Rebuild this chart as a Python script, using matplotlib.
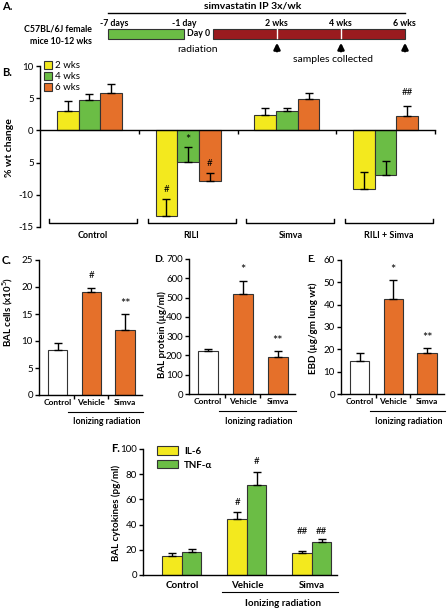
import numpy as np
import matplotlib
matplotlib.use('Agg')
import matplotlib.pyplot as plt
from matplotlib.patches import Rectangle

plt.rcParams['font.family'] = ['Lato', 'DejaVu Sans']

# ---- data ----
# panel B: % weight change per group, one list per time point
groups_b = ['Control', 'RILI', 'Simva', 'RILI + Simva']
weeks_b = ['2 wks', '4 wks', '6 wks']
wt_2wk = [3.0, -13.3, 2.45, -9.1]
wt_4wk = [4.75, -4.9, 2.95, -6.85]
wt_6wk = [5.85, -7.9, 4.8, 2.2]
sem_2wk = [1.6, 2.6, 1.0, 2.65]
sem_4wk = [0.95, 2.3, 0.5, 2.05]
sem_6wk = [1.35, 1.3, 1.0, 1.55]
sig_2wk = ['', '#', '', '']
sig_4wk = ['', '*', '', '']
sig_6wk = ['', '#', '', '##']

# panels C-E
treat = ['Control', 'Vehicle', 'Simva']
bal_cells = [8.3, 19.1, 12.0]
bal_cells_sem = [1.25, 0.7, 3.0]
bal_cells_sig = ['', '#', '**']
bal_protein = [221, 518, 193]
bal_protein_sem = [10, 69, 28]
bal_protein_sig = ['', '*', '**']
ebd = [14.8, 42.7, 18.3]
ebd_sem = [3.7, 8.2, 2.3]
ebd_sig = ['', '*', '**']

# panel F
il6 = [15.1, 44.2, 17.2]
il6_sem = [2.1, 5.6, 2.1]
il6_sig = ['', '#', '##']
tnf = [18.5, 71.4, 26.4]
tnf_sem = [1.9, 10.6, 1.9]
tnf_sig = ['', '#', '##']

# panel A timeline
sample_weeks = [2, 4, 6]

YELLOW = '#F3E91E'
GREEN = '#6BBD45'
ORANGE = '#E5702A'
DARKRED = '#9A1B1F'
EDGE = '#333333'

W, H = 447, 609
fig = plt.figure(figsize=(W / 100, H / 100), dpi=100)

# overlay in pixel coordinates for labels / schematic
ov = fig.add_axes([0, 0, 1, 1])
ov.set_xlim(0, W)
ov.set_ylim(H, 0)
ov.axis('off')


def px_axes(x0, y0, x1, y1):
    ax = fig.add_axes([x0 / W, 1 - y1 / H, (x1 - x0) / W, (y1 - y0) / H])
    ax.set_facecolor('none')
    return ax


def mark(ax, x, y, txt, dy=8):
    # significance symbols; asterisks drawn larger since they sit high
    if txt:
        star = '*' in txt
        ax.annotate(txt, (x, y), xytext=(0, dy - (1.5 if star else 0)),
                    textcoords='offset points', ha='center', va='center',
                    fontsize=9 if star else 7)


def style_axes(ax):
    for s in ['top', 'right']:
        ax.spines[s].set_visible(False)
    for s in ['left', 'bottom']:
        ax.spines[s].set_linewidth(1)
    ax.tick_params(axis='y', direction='out', length=3, width=1, labelsize=7, pad=1.5)


# ---------- panel A ----------
ov.text(2, 7, 'A.', fontsize=8, weight='bold', va='center')
ov.plot([108, 405], [13, 13], color='k', lw=1)
ov.text(253, 6, 'simvastatin IP 3x/wk', fontsize=7.5, weight='bold', ha='center', va='center')
ov.text(92, 29, 'C57BL/6J female', fontsize=6.3, weight='bold', ha='right', va='center')
ov.text(92, 41, 'mice 10-12 wks', fontsize=6.3, weight='bold', ha='right', va='center')
ov.add_patch(Rectangle((108, 28.5), 76, 10, facecolor=GREEN, edgecolor=EDGE, lw=0.8))
ov.add_patch(Rectangle((213, 28.5), 192, 10, facecolor=DARKRED, edgecolor=EDGE, lw=0.8))
ov.text(114, 23, '-7 days', fontsize=6.3, weight='bold', ha='center', va='center')
ov.text(184, 23, '-1 day', fontsize=6.3, weight='bold', ha='center', va='center')
ov.text(199, 34, 'Day 0', fontsize=6.3, weight='bold', ha='center', va='center')
ov.text(198, 49, 'radiation', fontsize=7.5, ha='center', va='center')
ov.text(333, 60, 'samples collected', fontsize=7.5, ha='center', va='center')
for wk in sample_weeks:
    xw = 213 + wk / 6 * 192
    ov.text(xw - 1, 23, '%d wks' % wk, fontsize=6.3, weight='bold', ha='center', va='center')
    if wk < 6:
        ov.plot([xw, xw], [29, 38], color='white', lw=1)
    ov.annotate('', xy=(xw, 40), xytext=(xw, 54),
                arrowprops=dict(arrowstyle='-|>', color='k', lw=1.8, mutation_scale=9))

# ---------- panel B ----------
ov.text(2, 72, 'B.', fontsize=8, weight='bold', va='center')
axb = px_axes(40, 66, 435, 227)
axb.set_ylim(-15, 10)
axb.set_xlim(-0.5, 3.5)
style_axes(axb)
axb.spines['bottom'].set_position(('data', 0))
axb.set_xticks([0.5, 1.5, 2.5, 3.5])
axb.set_xticklabels([])
axb.tick_params(axis='x', direction='out', length=3, width=1)
axb.set_yticks([-15, -10, -5, 0, 5, 10])
axb.set_yticklabels(['-15', '-10', '5', '0', '5', '10'])
xg = np.arange(len(groups_b))
bw = 0.22
for i, (vals, sems, sigs, col) in enumerate(zip([wt_2wk, wt_4wk, wt_6wk],
                                                 [sem_2wk, sem_4wk, sem_6wk],
                                                 [sig_2wk, sig_4wk, sig_6wk],
                                                 [YELLOW, GREEN, ORANGE])):
    xs = xg + (i - 1) * bw
    axb.bar(xs, vals, bw, color=col, edgecolor=EDGE, lw=0.8, label=weeks_b[i], zorder=2)
    axb.errorbar(xs, vals, yerr=[np.zeros(len(vals)), sems], fmt='none', ecolor='k',
                 elinewidth=1, capsize=3, capthick=1, zorder=3)
    for x, v, s, t in zip(xs, vals, sems, sigs):
        mark(axb, x, v + s, t, dy=10 if t == '##' else 7)
for i, name in enumerate(groups_b):
    axb.plot([i - 0.41, i - 0.41, i + 0.48, i + 0.48], [-13.7, -14.4, -14.4, -13.7],
             color='k', lw=1, clip_on=False)
    axb.text(i + 0.035, -16.3, name, ha='center', va='center', fontsize=6.5, weight='bold')
axb.legend(loc='upper left', bbox_to_anchor=(0.01, 1.03), frameon=False, fontsize=7,
           handlelength=0.8, handleheight=0.8, handletextpad=0.3, labelspacing=0.2,
           borderaxespad=0, borderpad=0)
ov.text(10, 148, '% wt change', rotation=90, fontsize=7.5, weight='bold', ha='center', va='center')


# ---------- panels C-E ----------
def small_panel(rect, ylim, yticks, vals, sems, sigs):
    x0, y0, x1, y1 = rect
    ax = px_axes(x0, y0, x1, y1)
    style_axes(ax)
    ax.set_ylim(*ylim)
    ax.set_yticks(yticks)
    ax.set_xlim(-0.55, 2.5)
    xs = np.arange(len(treat))
    ax.bar(xs, vals, 0.57, color=['white', ORANGE, ORANGE], edgecolor=EDGE, lw=0.8, zorder=2)
    ax.errorbar(xs, vals, yerr=[np.zeros(len(vals)), sems], fmt='none', ecolor='k',
                elinewidth=1, capsize=3, capthick=1, zorder=3)
    for x, v, s, t in zip(xs, vals, sems, sigs):
        mark(ax, x, v + s, t, dy=9)
    ax.set_xticks(xs)
    ax.set_xticklabels(treat, fontsize=6, weight='bold')
    ax.tick_params(axis='x', which='major', length=0, pad=3)
    ax.set_xticks([0.5, 1.5], minor=True)
    ax.tick_params(axis='x', which='minor', direction='out', length=3, width=1)
    hpx = y1 - y0
    tr = ax.get_xaxis_transform()
    ax.plot([0.32, 2.53], [-17 / hpx, -17 / hpx], transform=tr, color='k', lw=0.8, clip_on=False)
    ax.text(1.47, -27 / hpx, 'Ionizing radiation', transform=tr, ha='center', va='center',
            fontsize=6.3, weight='bold')
    return ax


ov.text(2, 261, 'C.', fontsize=8, weight='bold', va='center')
small_panel((39, 260, 142, 395), (0, 25), [0, 5, 10, 15, 20, 25],
            bal_cells, bal_cells_sem, bal_cells_sig)
ov.text(8, 312, 'BAL cells (x10$^{5}$)', rotation=90, fontsize=7, weight='bold',
        ha='center', va='center')

ov.text(154, 259, 'D.', fontsize=7.5, weight='bold', va='center')
small_panel((189, 259, 295, 394), (0, 700), [0, 100, 200, 300, 400, 500, 600, 700],
            bal_protein, bal_protein_sem, bal_protein_sig)
ov.text(162, 335, 'BAL protein (µg/ml)', rotation=90, fontsize=7, weight='bold',
        ha='center', va='center')

ov.text(307, 259, 'E.', fontsize=7.5, weight='bold', va='center')
small_panel((341, 260, 444, 394), (0, 60), [0, 10, 20, 30, 40, 50, 60],
            ebd, ebd_sem, ebd_sig)
ov.text(313, 328, 'EBD (µg/gm lung wt)', rotation=90, fontsize=7, weight='bold',
        ha='center', va='center')

# ---------- panel F ----------
ov.text(111, 449, 'F.', fontsize=8, weight='bold', va='center')
axf = px_axes(143, 449, 337, 575)
style_axes(axf)
axf.set_ylim(0, 100)
axf.set_yticks([0, 20, 40, 60, 80, 100])
axf.set_xlim(-0.6, 2.385)
xs = np.arange(len(treat))
fw = 0.3
axf.bar(xs - fw / 2, il6, fw, color=YELLOW, edgecolor=EDGE, lw=0.8, label='IL-6', zorder=2)
axf.bar(xs + fw / 2, tnf, fw, color=GREEN, edgecolor=EDGE, lw=0.8, label='TNF-α', zorder=2)
axf.errorbar(xs - fw / 2, il6, yerr=[np.zeros(3), il6_sem], fmt='none', ecolor='k',
             elinewidth=1, capsize=3, capthick=1, zorder=3)
axf.errorbar(xs + fw / 2, tnf, yerr=[np.zeros(3), tnf_sem], fmt='none', ecolor='k',
             elinewidth=1, capsize=3, capthick=1, zorder=3)
for i in range(3):
    top = max(il6[i] + il6_sem[i], tnf[i] + tnf_sem[i])
    if il6_sig[i] == '##':
        mark(axf, xs[i] - fw / 2, top, il6_sig[i], dy=6)
        mark(axf, xs[i] + fw / 2, top, tnf_sig[i], dy=6)
    else:
        mark(axf, xs[i] - fw / 2, il6[i] + il6_sem[i], il6_sig[i], dy=7)
        mark(axf, xs[i] + fw / 2, tnf[i] + tnf_sem[i], tnf_sig[i], dy=7.5)
axf.set_xticks(xs)
axf.set_xticklabels(treat, fontsize=7, weight='bold')
axf.tick_params(axis='x', length=0, pad=4)
trf = axf.get_xaxis_transform()
hf = 575 - 449
axf.plot([0.615, 2.4], [-17 / hf, -17 / hf], transform=trf, color='k', lw=0.8, clip_on=False)
axf.text(1.55, -28 / hf, 'Ionizing radiation', transform=trf, ha='center', va='center',
         fontsize=7, weight='bold')
axf.legend(loc='upper left', bbox_to_anchor=(0.07, 1.02), frameon=False,
           prop={'size': 7, 'weight': 'bold'}, handlelength=2.2, handleheight=0.9,
           handletextpad=0.6, labelspacing=0.45, borderaxespad=0, borderpad=0)
ov.text(116, 513, 'BAL cytokines (pg/ml)', rotation=90, fontsize=7, weight='bold',
        ha='center', va='center')

fig.savefig('out.png', dpi=100)
